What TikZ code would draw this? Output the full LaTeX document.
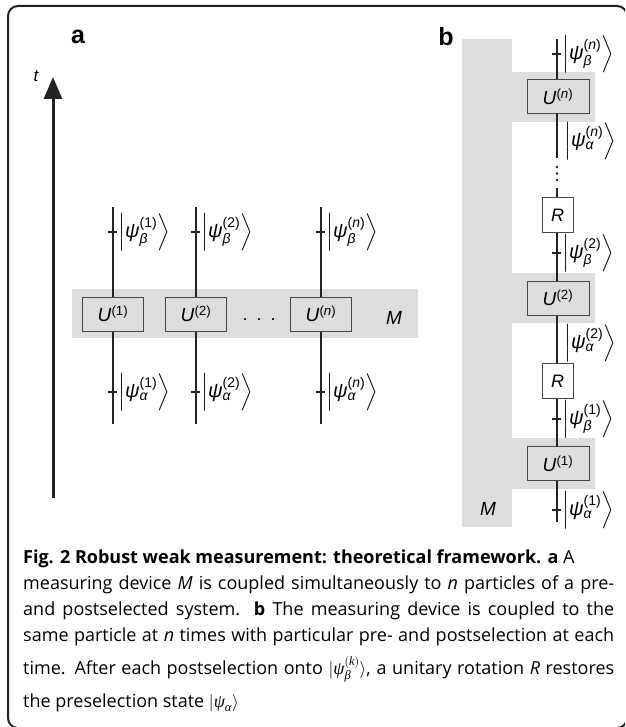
\documentclass[tikz,border=0pt]{standalone}
\usepackage{amsmath}
\usepackage{fontspec}
\setmainfont{Liberation Sans}
\newfontfamily\capfont{Open Sans}
\newfontfamily\serifgr{Liberation Serif}
\usetikzlibrary{arrows.meta}
\definecolor{bandgray}{RGB}{220,221,223}
\definecolor{ink}{RGB}{35,35,35}
\definecolor{boxline}{RGB}{70,70,70}
\newcommand{\kt}[2]{\(\left|\text{\itshape ψ}^{\text{#2}}_{\text{\itshape #1}}\right\rangle\)}
\newcommand{\cg}[1]{\text{\serifgr\itshape #1}}
\begin{document}
\begin{tikzpicture}[x=1pt,y=-1pt,
  wire/.style={line width=2.2pt, draw=ink},
  tickmark/.style={line width=1.8pt, draw=ink},
  ubox/.style={draw=boxline, line width=1pt, fill=bandgray, minimum width=61pt, minimum height=34pt, inner sep=0pt, font=\fontsize{19}{20}\selectfont},
  rbox/.style={draw=boxline, line width=1pt, fill=white, minimum width=31pt, minimum height=35pt, inner sep=0pt, font=\fontsize{18}{20}\selectfont},
  lbl/.style={anchor=west, inner sep=0pt, font=\fontsize{20}{22}\selectfont},
  panel/.style={font=\bfseries\fontsize{25}{25}\selectfont, inner sep=0pt},
  mlbl/.style={font=\itshape\fontsize{19}{19}\selectfont, inner sep=0pt},
  capline/.style={anchor=base west, inner sep=0pt, font=\capfont\fontsize{18}{22}\selectfont},
  dotpt/.style={fill=ink, draw=none},
]
\useasboundingbox (0,0) rectangle (625,727);
\begin{scope}
  \clip (0,0) rectangle (625,727);
  \draw[rounded corners=10pt, line width=2pt, draw=ink] (8,6) rectangle (627,728);
\end{scope}

% ---------- panel a ----------
\fill[bandgray] (72,289) rectangle (418,338);
\node[panel] (pa) at (78,37) {a};
\node[font=\itshape\fontsize{17}{17}\selectfont, inner sep=0pt] (tl) at (36,76) {t};
\coordinate (tbot) at (53,498);
\coordinate (ttop) at (53,77);
\draw[line width=3pt, draw=ink, -{Triangle[length=22pt,width=18pt]}] (tbot) -- (ttop);

\foreach \n/\x/\s in {1/113/(1), 2/196/(2), n/321/(\textit{n})} {
  \coordinate (top\n) at (\x,207);
  \coordinate (bot\n) at (\x,424);
  \draw[wire] (top\n) -- (bot\n);
  \coordinate (bt\n) at (\x,232);
  \coordinate (at\n) at (\x,392);
  \draw[tickmark] ([xshift=-5pt]bt\n) -- ([xshift=4pt]bt\n);
  \draw[tickmark] ([xshift=-5pt]at\n) -- ([xshift=4pt]at\n);
  \node[lbl] (lb\n) at (\x+5,232) {\kt{β}{\s}};
  \node[lbl] (la\n) at (\x+5,392) {\kt{α}{\s}};
  \node[ubox] (ua\n) at (\x,314) {\textit{U}\textsuperscript{\s}};
}
\node[font=\fontsize{18}{18}\selectfont, inner sep=0pt] (adots) at (259,320) {.\hspace{9pt}.\hspace{9pt}.};
\node[mlbl] (ma) at (394,318) {M};

% ---------- panel b ----------
\fill[bandgray] (462,39) rectangle (512,527);
\fill[bandgray] (511,72) rectangle (595,122);
\fill[bandgray] (511,273) rectangle (595,323);
\fill[bandgray] (511,438) rectangle (595,489);
\node[panel] (pb) at (446,37) {b};
\node[mlbl] (mb) at (488,509) {M};

\coordinate (w1) at (557,39);
\coordinate (w2) at (557,158);
\coordinate (w3) at (557,188);
\coordinate (w4) at (557,522);
\draw[wire] (w1) -- (w2);
\draw[wire] (w3) -- (w4);
\foreach \y in {167,173.5,180} \fill[dotpt] (557,\y) circle (1.3pt);

\foreach \k/\y in {bn/54, b2/253, b1/419, a1/510} {
  \coordinate (tk\k) at (557,\y);
  \draw[tickmark] ([xshift=-5pt]tk\k) -- ([xshift=4pt]tk\k);
}
\node[lbl] (kbn) at (562,54) {\kt{β}{(\textit{n})}};
\node[lbl] (kan) at (564,141) {\kt{α}{(\textit{n})}};
\node[lbl] (kb2) at (562,253) {\kt{β}{(2)}};
\node[lbl] (ka2) at (564,343) {\kt{α}{(2)}};
\node[lbl] (kb1) at (562,419) {\kt{β}{(1)}};
\node[lbl] (ka1) at (562,510) {\kt{α}{(1)}};

\node[ubox, minimum width=62pt] (ubn) at (558,96.5) {\textit{U}\textsuperscript{(\textit{n})}};
\node[rbox] (r2) at (557.5,215) {\textit{R}};
\node[ubox, minimum width=62pt] (ub2) at (558,298) {\textit{U}\textsuperscript{(2)}};
\node[rbox] (r1) at (557.5,381) {\textit{R}};
\node[ubox, minimum width=62pt] (ub1) at (558,463.5) {\textit{U}\textsuperscript{(1)}};

% ---------- caption ----------
\node[capline] (c1) at (23,563) {\textbf{Fig. 2 Robust weak measurement: theoretical framework. a} A};
\node[capline] (c2) at (23,589) {\makebox[591pt][s]{measuring device \textit{M} is coupled simultaneously to \textit{n} particles of a pre-}};
\node[capline] (c3) at (23,615) {\makebox[591pt][s]{and postselected system. \textbf{b} The measuring device is coupled to the}};
\node[capline] (c4) at (23,641) {\makebox[591pt][s]{same particle at \textit{n} times with particular pre- and postselection at each}};
\node[capline] (c5) at (23,674) {\makebox[591pt][s]{time. After each postselection onto $|\cg{ψ}^{(\cg{k})}_{\cg{β}}\rangle$, a unitary rotation \textit{R} restores}};
\node[capline] (c6) at (23,707) {the preselection state $\left|\cg{ψ}_{\cg{α}}\right\rangle$};
\end{tikzpicture}
\end{document}
